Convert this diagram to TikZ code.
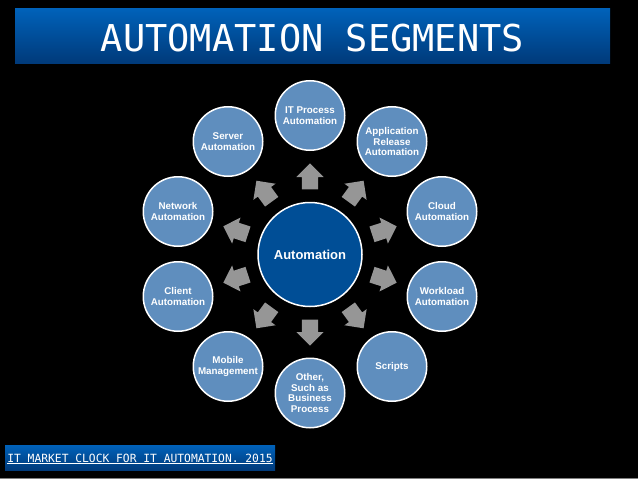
\documentclass[tikz,border=0pt]{standalone}
\usepackage{fontspec}
\setmainfont{Liberation Sans}
\newfontfamily\lcdfont{DejaVu Sans Mono}
\usetikzlibrary{shapes.arrows}
\definecolor{hubblue}{RGB}{0,78,150}
\definecolor{segblue}{RGB}{95,142,190}
\definecolor{bartop}{RGB}{0,98,186}
\definecolor{barbot}{RGB}{0,58,122}
\definecolor{pfeil}{RGB}{150,150,150}
\tikzset{
  segment/.style={circle, draw=white, line width=1.5pt, fill=segblue, text=white, minimum size=69.5pt, inner sep=0pt, align=center, font=\fontsize{9.8}{10.4}\selectfont\bfseries},
  hub/.style={circle, draw=white, line width=1.5pt, fill=hubblue, text=white, minimum size=104pt, inner sep=0pt, font=\fontsize{13}{15}\selectfont\bfseries},
  pointer/.style={single arrow, fill=pfeil, anchor=tail, minimum height=26pt, minimum width=27pt, inner xsep=4pt, inner ysep=8pt, single arrow head extend=5.5pt},
  banner/.style={rectangle, top color=bartop, bottom color=barbot, text=white, inner sep=0pt, text depth=0pt}
}
\begin{document}
\begin{tikzpicture}[x=1pt, y=-1pt]
	\useasboundingbox (0,0) rectangle (638,479);
	\fill[black] (0,0) rectangle (638,479);
	\fill[gray] (0,478) rectangle (638,479);
	\node[banner, minimum width=595pt, minimum height=55pt, text height=31pt, font=\fontsize{37}{40}\lcdfont] (title) at (312.5,35.5) {AUTOMATION SEGMENTS};
	\node[banner, minimum width=270pt, minimum height=25pt, text height=9pt, font=\fontsize{11.3}{13}\lcdfont] (source) at (140,457.5) {\underline{IT MARKET CLOCK FOR IT AUTOMATION. 2015}};
	\node[hub] (auto) at (310,254.5) {Automation};
	\node[segment] (itp) at (310,115.5) {IT Process\\Automation};
	\node[segment] (app) at (392,141.5) {Application\\Release\\Automation};
	\node[segment] (cloud) at (442,211.5) {Cloud\\Automation};
	\node[segment] (work) at (442,296.5) {Workload\\Automation};
	\node[segment] (scr) at (392,366.5) {Scripts};
	\node[segment] (oth) at (310,393) {Other,\\Such as\\Business\\Process};
	\node[segment] (mob) at (228,366.5) {Mobile\\Management};
	\node[segment] (cli) at (178,296.5) {Client\\Automation};
	\node[segment] (net) at (178,211.5) {Network\\Automation};
	\node[segment] (srv) at (228,141.5) {Server\\Automation};
	\node[pointer, rotate=90] (p1) at (310,189.5) {};
	\node[pointer, rotate=54] (p2) at (348.2,201.9) {};
	\node[pointer, rotate=18] (p3) at (371.8,234.4) {};
	\node[pointer, rotate=-18] (p4) at (371.8,274.6) {};
	\node[pointer, rotate=-54] (p5) at (348.2,307.1) {};
	\node[pointer, rotate=-90] (p6) at (310,319.5) {};
	\node[pointer, rotate=-126] (p7) at (271.8,307.1) {};
	\node[pointer, rotate=-162] (p8) at (248.2,274.6) {};
	\node[pointer, rotate=162] (p9) at (248.2,234.4) {};
	\node[pointer, rotate=126] (p10) at (271.8,201.9) {};
\end{tikzpicture}
\end{document}
